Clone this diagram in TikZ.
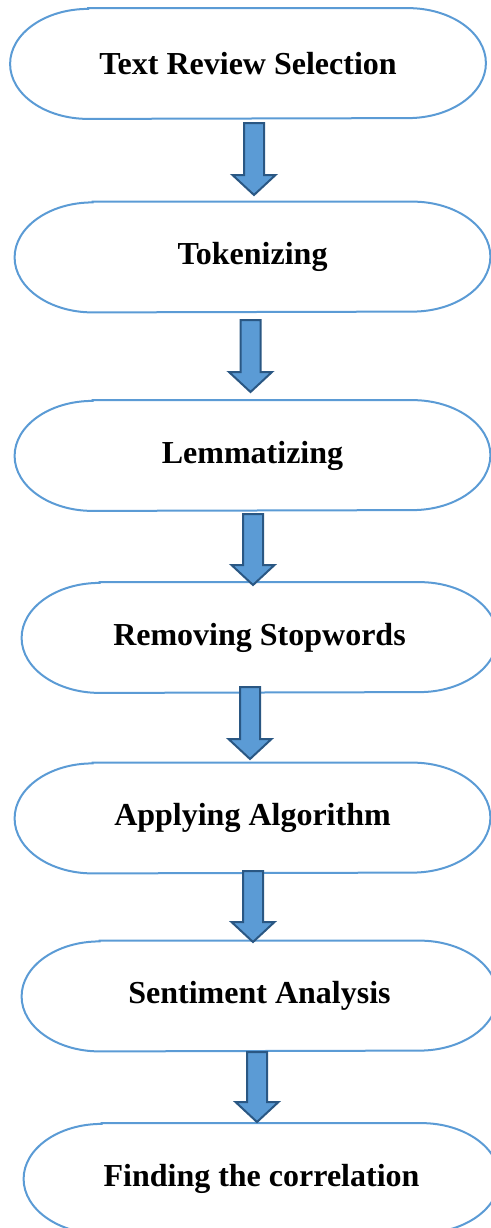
\documentclass[tikz,border=0pt]{standalone}
\usepackage{fontspec}
\setmainfont{Liberation Serif}
\usetikzlibrary{calc}
\definecolor{boxline}{HTML}{5B9BD5}
\definecolor{arrowfill}{HTML}{5B9BD5}
\definecolor{arrowline}{HTML}{2A5783}
\tikzset{
  stage/.style={minimum width=237.5pt, minimum height=55pt, inner sep=0pt,
    font=\fontsize{16}{19}\selectfont\bfseries},
  termline/.style={draw=boxline, line width=1pt},
  blockarrow/.style={draw=arrowline, fill=arrowfill, line width=1pt, line join=miter,
    to path={let \p1=(\tikztostart), \p2=(\tikztotarget) in
      (\x1-5pt,\y1) -- (\x1+5pt,\y1) -- (\x1+5pt,\y2+10pt) -- (\x1+10.75pt,\y2+10pt)
      -- (\x1,\y2) -- (\x1-10.75pt,\y2+10pt) -- (\x1-5pt,\y2+10pt) -- cycle}}
}
\begin{document}
\begin{tikzpicture}[x=0.5pt, y=-0.5pt]
	\useasboundingbox (0,0) rectangle (491,1228);
	\clip (0,0) rectangle (491,1228);
	\node[stage] (S_sel) at (248, 63.5) {Text Review Selection};
	\node[stage] (S_tok) at (252.5, 257) {Tokenizing};
	\node[stage] (S_lem) at (252.5, 455.5) {Lemmatizing};
	\node[stage] (S_stop) at (259.5, 637.5) {Removing Stopwords};
	\node[stage] (S_alg) at (252.5, 818) {Applying Algorithm};
	\node[stage] (S_sent) at (259.5, 996) {Sentiment Analysis};
	\node[stage] (S_corr) at (261.5, 1178.5) {Finding the correlation};
	% terminator outlines round each stage
	\foreach \s in {S_sel,S_tok,S_lem,S_stop,S_alg,S_sent,S_corr}
		\draw[termline] let \p1=(\s.north west), \p2=(\s.south east) in
			(\x1+39pt,\y1) -- (\x2-39pt,\y1)
			arc[start angle=90, end angle=-90, x radius=39pt, y radius=27.5pt]
			-- (\x1+39pt,\y2)
			arc[start angle=270, end angle=90, x radius=39pt, y radius=27.5pt] -- cycle;
	% block arrows
	\coordinate (a_1) at (254, 123);   \coordinate (b_1) at (254, 195);
	\coordinate (a_2) at (250.5, 320); \coordinate (b_2) at (250.5, 392);
	\coordinate (a_3) at (253, 514);   \coordinate (b_3) at (253, 585);
	\coordinate (a_4) at (250, 687);   \coordinate (b_4) at (250, 759);
	\coordinate (a_5) at (253, 871);   \coordinate (b_5) at (253, 942);
	\coordinate (a_6) at (257, 1052);  \coordinate (b_6) at (257, 1122);
	\foreach \i in {1,...,6}
		\draw[blockarrow] (a_\i) to (b_\i);
\end{tikzpicture}
\end{document}
